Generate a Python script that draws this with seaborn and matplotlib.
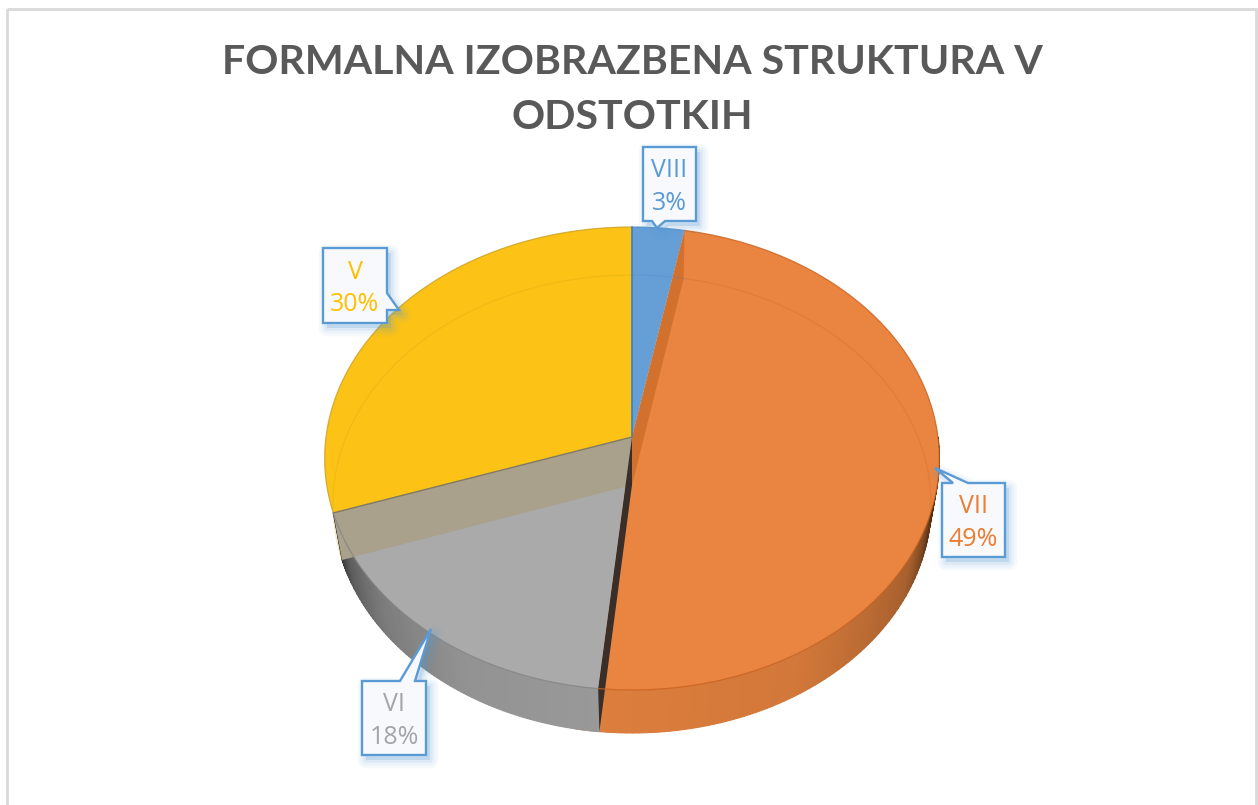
import numpy as np
import seaborn as sns
import matplotlib.pyplot as plt
from matplotlib.patches import Polygon, Rectangle
from matplotlib.transforms import Transform

# Data
labels = ["VIII", "VII", "VI", "V"]
shares = [3.0, 48.6, 18.2, 30.2]
face_colors = ["#659FD6", "#E98540", "#AAAAAA", "#FCC215"]
rim_colors = ["#4F8AC4", "#C8611F", "#858585", "#C9A020"]
text_colors = ["#5B9BD5", "#ED7D31", "#A5A5A5", "#FFC000"]
title = "FORMALNA IZOBRAZBENA STRUKTURA V\nODSTOTKIH"

sns.set_theme(style="white")
plt.rcParams["font.family"] = ["Open Sans", "DejaVu Sans"]


class Tilt(Transform):
    # unit circle -> tilted disc in pixel coords
    input_dims = 2
    output_dims = 2
    is_separable = False
    has_inverse = False

    def __init__(self, cx, cy, a, b, k):
        super().__init__()
        self.p = (cx, cy, a, b, k)

    def transform_non_affine(self, values):
        cx, cy, a, b, k = self.p
        v = np.asarray(values, dtype=float)
        w = 1 + k * v[:, 1]
        return np.column_stack([cx + a * v[:, 0] / w, cy - b * v[:, 1] / w])


top = Tilt(632, 437, 306, 229.5, 0.0929)
low = Tilt(632, 485, 298, 227.4, 0.083)


def arc(theta1, theta2, n=60):
    t = np.radians(np.linspace(theta1, theta2, n))
    return np.column_stack([np.cos(t), np.sin(t)])


def wall(ax, theta, color, z, alpha=1.0):
    # inner wall of a slice, from the centre to the rim
    rim = arc(theta, theta, 1)
    o = np.zeros((1, 2))
    pts = np.vstack([top.transform(o), top.transform(rim), low.transform(rim), low.transform(o)])
    ax.add_patch(Polygon(pts, closed=True, fc=color, ec="none", alpha=alpha, zorder=z))


def side(ax, theta1, theta2, base, stops, z):
    # outer wall, shaded piece by piece
    t = np.linspace(theta1, theta2, 90)
    shade = np.interp(t, stops[0], stops[1])
    rgb = np.array(sns.desaturate(base, 1))
    for i in range(len(t) - 1):
        seg = arc(t[i], t[i + 1], 3)
        pts = np.vstack([top.transform(seg), low.transform(seg)[::-1]])
        c = tuple(rgb * shade[i])
        ax.add_patch(Polygon(pts, closed=True, fc=c, ec=c, lw=0.8, zorder=z))


def callout(ax, pts, box, text, color):
    pts = np.array(pts, dtype=float)
    for lw, al in [(12, 0.05), (8, 0.07), (4, 0.10)]:
        ax.add_patch(Polygon(pts + [4, 5], closed=True, fc="#5B9BD5", ec="#5B9BD5",
                             lw=lw, alpha=al, zorder=8, joinstyle="round"))
    ax.add_patch(Polygon(pts, closed=True, fc="#F7F9FD", ec="#5B9BD5", lw=1.7, zorder=9))
    x0, y0, x1, y1 = box
    ax.text((x0 + x1) / 2, (y0 + y1) / 2 + 3, text, color=color, fontsize=18, ha="center",
            va="center", linespacing=1.38, zorder=10)


fig, ax = plt.subplots(figsize=(12.58, 8.05), dpi=100)
fig.subplots_adjust(0, 0, 1, 1)

wedges, _ = ax.pie(shares, colors=face_colors, startangle=90, counterclock=False, frame=True,
                   wedgeprops=dict(ec="none", lw=0))
ax.set_aspect("auto")
ax.set_xlim(0, 1258)
ax.set_ylim(805, 0)
ax.axis("off")

for w in wedges:
    w.set_transform(top + ax.transData)
    w.set_clip_on(False)
    w.set_zorder(3)

# angles of the slices (theta1 < theta2)
th = {lab: (w.theta1, w.theta2) for lab, w in zip(labels, wedges)}

# outer walls of the front slices
side(ax, -100, 0, face_colors[1],
     ([-100, -60, -30, -12, -4, 0], [0.95, 0.9, 0.72, 0.35, 0.2, 0.15]), 1)
a1, a2 = th["VI"]
side(ax, a1, a2, face_colors[2],
     ([a1, a1 + 8, a1 + 20, a1 + 40, a2], [0.3, 0.55, 0.72, 0.86, 0.9]), 1)

# inner walls seen through the top
wall(ax, th["V"][1], "#A9A18C", 4)
wall(ax, th["VII"][1], "#D2702E", 4)
wall(ax, th["VII"][0], "#3A2E28", 5)

# faint outline of the lower disc
for lab, rc in zip(labels, rim_colors):
    a, b = th[lab]
    if lab == "VI":
        continue
    p = low.transform(arc(max(a, -12) if lab == "VII" else a, b))
    ax.plot(p[:, 0], p[:, 1], color=rc, lw=1, alpha=0.22, zorder=4)

# rim of the top face
for lab, rc in zip(labels, rim_colors):
    a, b = th[lab]
    p = top.transform(arc(a, b))
    ax.plot(p[:, 0], p[:, 1], color=rc, lw=0.9, alpha=0.8, zorder=6)

# slice lines
centre = top.transform(np.zeros((1, 2)))[0]
p = top.transform(arc(90, 90, 1))[0]
ax.plot([centre[0], p[0]], [centre[1], p[1]], color="#3F7FBF", lw=1.2, zorder=6)
p = top.transform(arc(th["V"][1], th["V"][1], 1))[0]
ax.plot([centre[0], p[0]], [centre[1], p[1]], color="#7F7A66", lw=1, zorder=6)

# chart frame
ax.add_patch(Rectangle((7, 9), 1249, 830, fc="none", ec="#D9D9D9", lw=2, zorder=0))

ax.text(632, 90, title, color="#595959", fontsize=29.6, fontweight="bold", ha="center",
        va="center", linespacing=1.62, family=["Lato", "DejaVu Sans"], zorder=10)

# callouts
callout(ax, [(643, 147), (696, 147), (696, 221), (665, 221), (657, 228), (652, 221), (643, 221)],
        (643, 147, 696, 221), f"{labels[0]}\n{round(shares[0])}%", text_colors[0])
callout(ax, [(942, 483), (953, 483), (935, 468), (968, 483), (1005, 483), (1005, 557), (942, 557)],
        (942, 483, 1005, 557), f"{labels[1]}\n{round(shares[1])}%", text_colors[1])
callout(ax, [(362, 681), (400, 681), (431, 629), (415, 681), (426, 681), (426, 755), (362, 755)],
        (362, 681, 426, 755), f"{labels[2]}\n{round(shares[2])}%", text_colors[2])
callout(ax, [(323, 248), (387, 248), (387, 293), (399, 310), (387, 310), (387, 323), (323, 323)],
        (323, 248, 387, 323), f"{labels[3]}\n{round(shares[3])}%", text_colors[3])

fig.savefig("out.png", dpi=100)
